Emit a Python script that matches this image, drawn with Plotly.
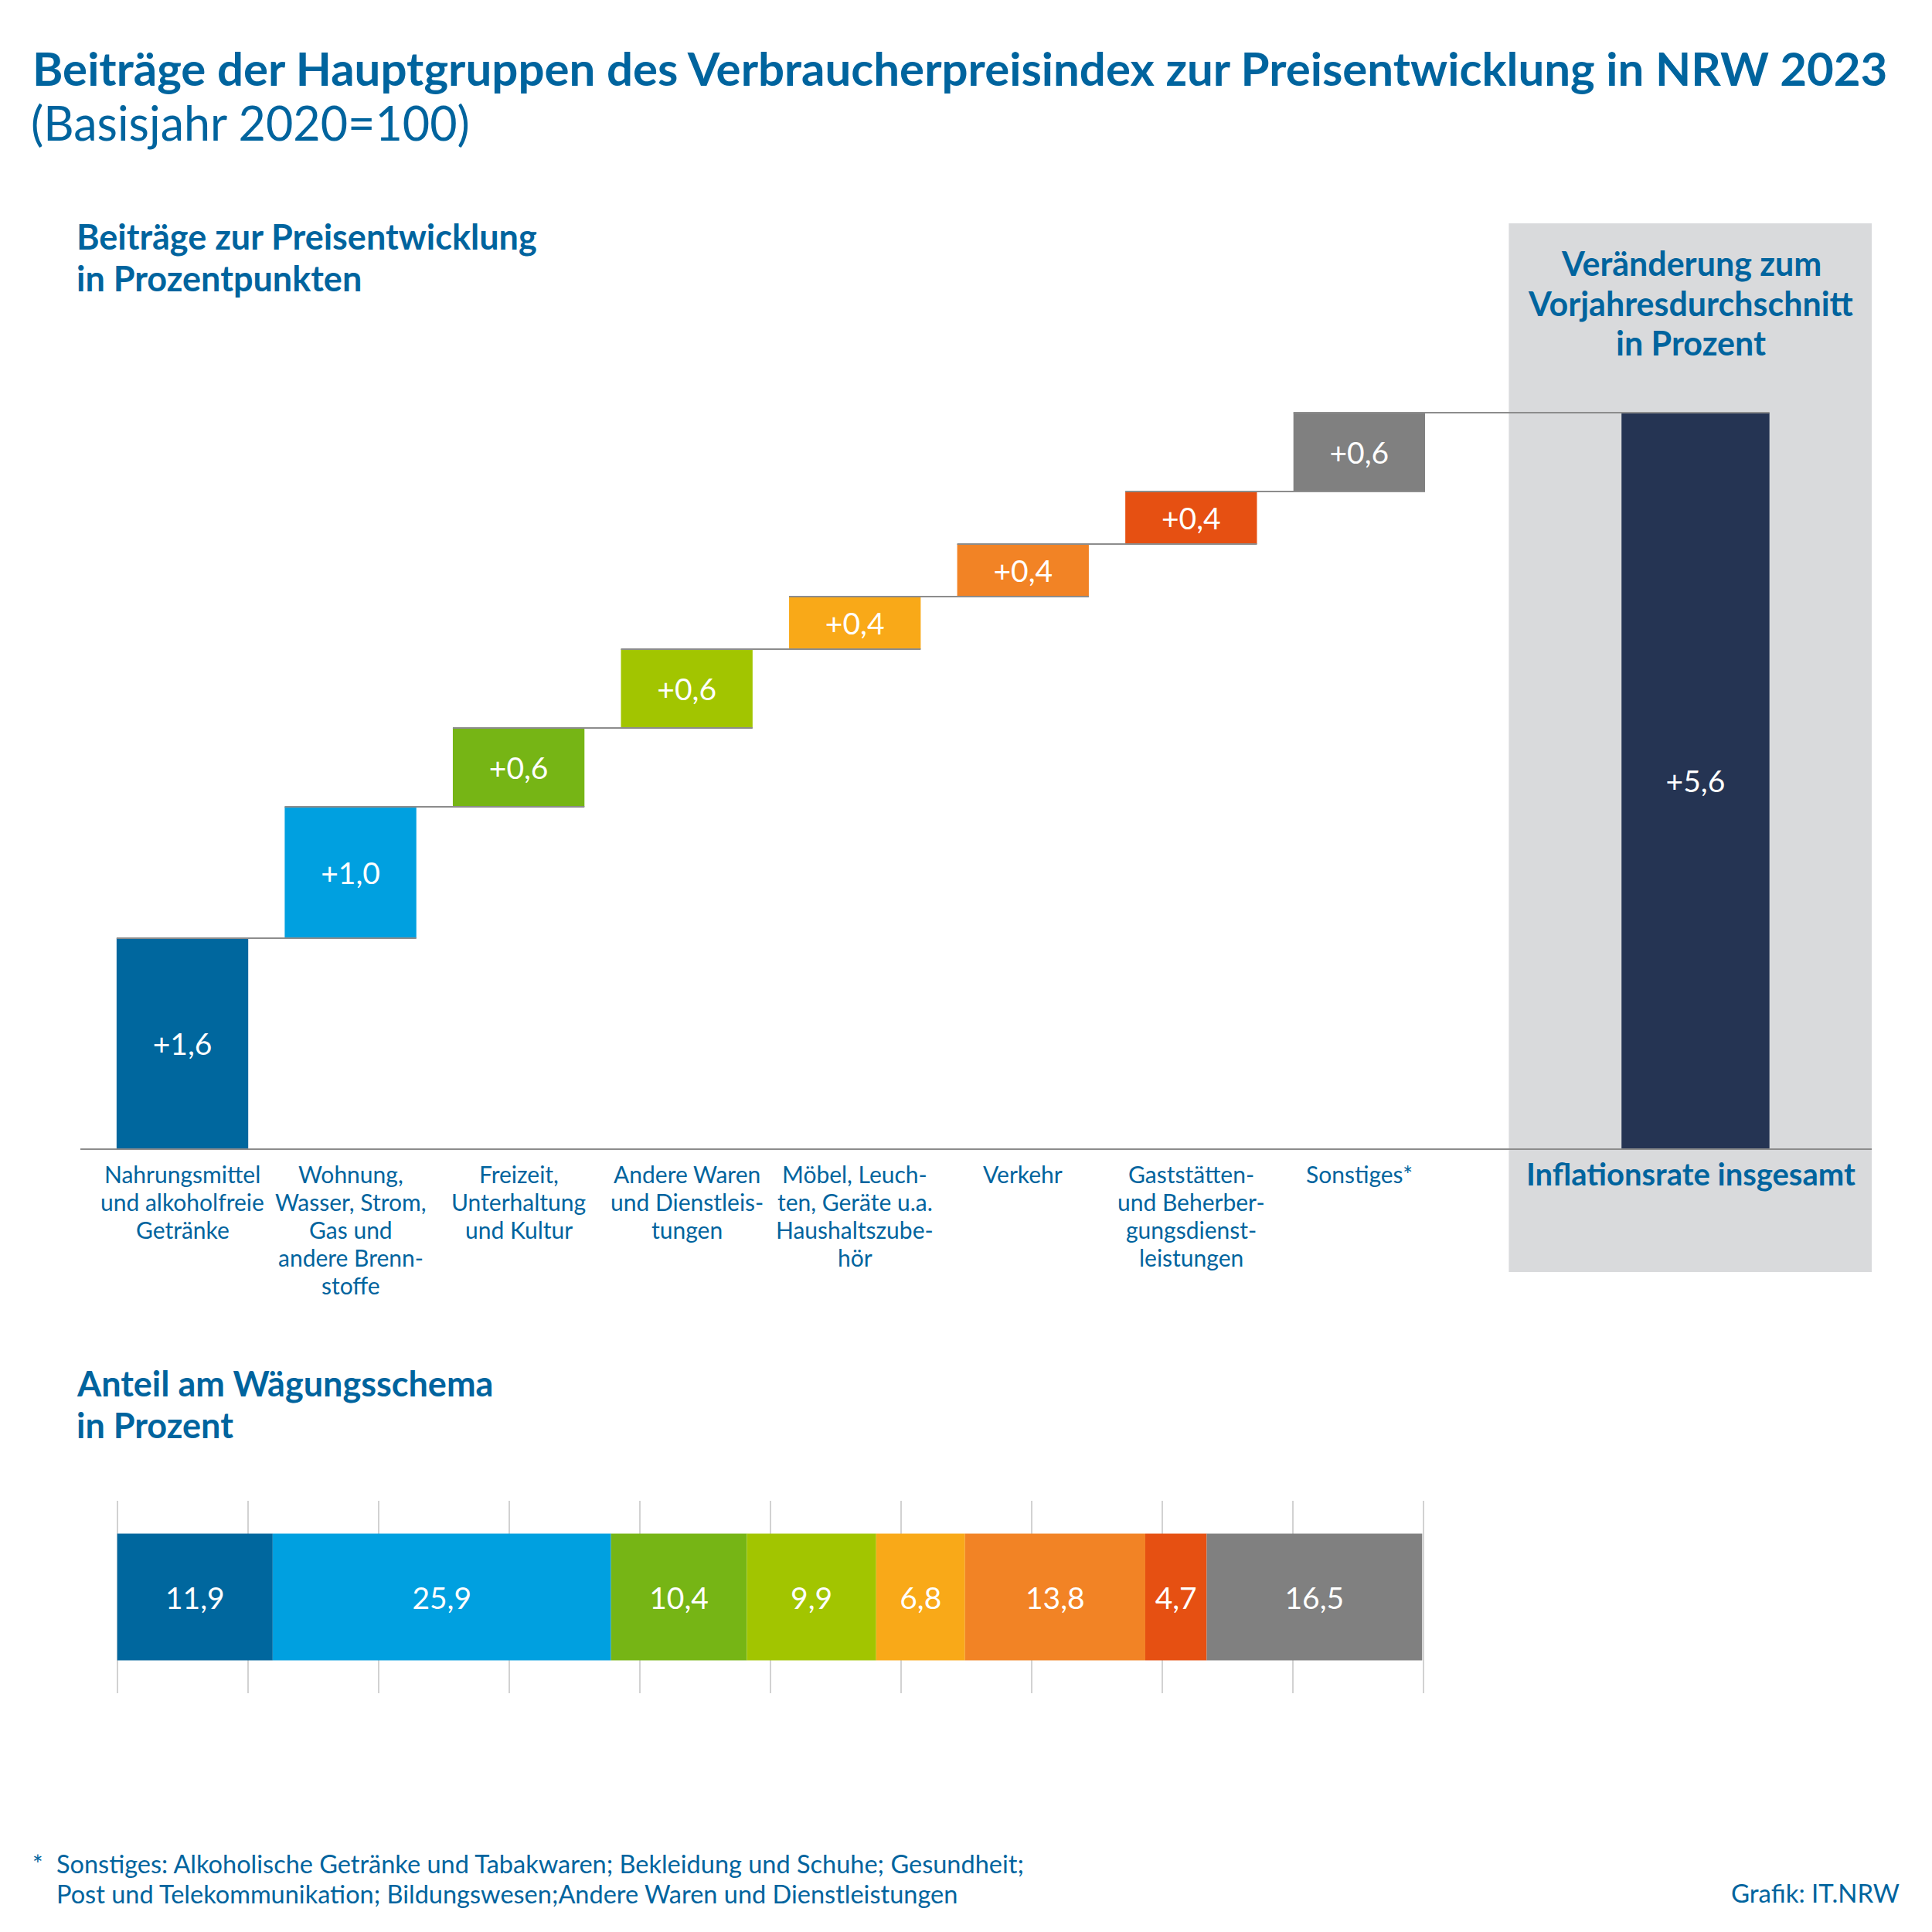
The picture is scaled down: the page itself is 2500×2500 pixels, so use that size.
import plotly.graph_objects as go

# ---------------- data ----------------
categories = [
    "Nahrungsmittel<br>und alkoholfreie<br>Getränke",
    "Wohnung,<br>Wasser, Strom,<br>Gas und<br>andere Brenn-<br>stoffe",
    "Freizeit,<br>Unterhaltung<br>und Kultur",
    "Andere Waren<br>und Dienstleis-<br>tungen",
    "Möbel, Leuch-<br>ten, Geräte u.a.<br>Haushaltszube-<br>hör",
    "Verkehr",
    "Gaststätten-<br>und Beherber-<br>gungsdienst-<br>leistungen",
    "Sonstiges*",
]
contributions = [1.6, 1.0, 0.6, 0.6, 0.4, 0.4, 0.4, 0.6]
total_label = "Inflationsrate insgesamt"
total_value = 5.6
weights = [11.9, 25.9, 10.4, 9.9, 6.8, 13.8, 4.7, 16.5]

colors = ["#00679E", "#00A0E0", "#76B515", "#A2C500",
          "#F9A918", "#F28325", "#E65012", "#808080"]
total_color = "#253453"
blue_text = "#00649E"
line_gray = "#8C8C8C"
panel_gray = "#D9DADC"
FONT = "Lato"

def de(v, plus=False):
    s = f"{v:.1f}".replace(".", ",")
    return ("+" + s) if plus else s

W, H = 2500, 2500
def py(px):
    return 1 - px / H

# ---------------- waterfall (bars with base) ----------------
n = len(contributions)
xpos = list(range(n))
total_x = n + 1
bases = []
acc = 0.0
for v in contributions:
    bases.append(acc)
    acc += v
ends = [b + v for b, v in zip(bases, contributions)]

bar_w = 0.783
tot_w = 0.88

fig = go.Figure()
fig.add_trace(go.Bar(
    x=xpos, y=contributions, base=bases, width=bar_w,
    marker=dict(color=colors, line=dict(width=0)),
    text=[de(v, True) for v in contributions],
    textposition="inside", insidetextanchor="middle", constraintext="none",
    textfont=dict(family=FONT, size=39, color="white"),
    xaxis="x", yaxis="y", showlegend=False, hoverinfo="skip",
))
fig.add_trace(go.Bar(
    x=[total_x], y=[total_value], base=[0], width=tot_w,
    marker=dict(color=total_color, line=dict(width=0)),
    text=[de(total_value, True)],
    textposition="inside", insidetextanchor="middle", constraintext="none",
    textfont=dict(family=FONT, size=39, color="white"),
    xaxis="x", yaxis="y", showlegend=False, hoverinfo="skip",
))

# connectors: from left edge of bar i to right edge of next bar, at level ends[i]
cx, cy = [], []
next_x = xpos[1:] + [total_x]
next_w = [bar_w] * (n - 1) + [tot_w]
for i in range(n):
    cx += [xpos[i] - bar_w / 2, next_x[i] + next_w[i] / 2, None]
    cy += [ends[i], ends[i], None]
fig.add_trace(go.Scatter(
    x=cx, y=cy, mode="lines", line=dict(color=line_gray, width=2),
    xaxis="x", yaxis="y", showlegend=False, hoverinfo="skip",
))

# ---------------- weight bar (stacked horizontal) ----------------
w_bases = []
acc = 0.0
for v in weights:
    w_bases.append(acc)
    acc += v
fig.add_trace(go.Bar(
    y=[0] * len(weights), x=weights, base=w_bases, orientation="h", width=0.659,
    marker=dict(color=colors, line=dict(width=0)),
    text=[de(v) for v in weights],
    textposition="inside", insidetextanchor="middle", constraintext="none",
    textfont=dict(family=FONT, size=39, color="white"),
    xaxis="x2", yaxis="y2", showlegend=False, hoverinfo="skip",
))

# ---------------- layout ----------------
px_unit = 217.5
x_left_px, x_right_px = 104, 2422
x0_data = 0 - (236 - x_left_px) / px_unit
x1_data = total_x + (x_right_px - 2194) / px_unit
base_px = 1486
y_unit = 170
y_top = 6.2

fig.update_layout(
    width=W, height=H, margin=dict(l=0, r=0, t=0, b=0),
    paper_bgcolor="white", plot_bgcolor="rgba(0,0,0,0)",
    barmode="overlay",
    font=dict(family=FONT, color=blue_text),
    xaxis=dict(
        domain=[x_left_px / W, x_right_px / W], range=[x0_data, x1_data],
        tickvals=xpos + [total_x], showticklabels=False,
        ticks="", showgrid=False, zeroline=False,
        showline=True, linecolor=line_gray, linewidth=2,
    ),
    yaxis=dict(
        domain=[py(base_px), py(base_px - y_top * y_unit)], range=[0, y_top],
        showgrid=False, zeroline=False, showticklabels=False, showline=False,
    ),
    xaxis2=dict(
        domain=[(151.7 - 0.3 * 16.9) / W, (1842 + 0.3 * 16.9) / W], range=[-0.3, 100.3],
        dtick=10, tick0=0, showgrid=True, gridcolor="#D2D2D2", gridwidth=2,
        zeroline=False, showticklabels=False, showline=False, ticks="",
        anchor="y2",
    ),
    yaxis2=dict(
        domain=[py(2191), py(1942)], range=[-0.5, 0.5],
        showgrid=False, zeroline=False, showticklabels=False, showline=False,
        anchor="x2",
    ),
)

# grey panel behind total bar
fig.add_shape(type="rect", xref="x", yref="paper",
              x0=(1952 - 236) / px_unit, x1=x1_data,
              y0=py(1646), y1=py(289),
              fillcolor=panel_gray, line=dict(width=0), layer="below")

def lines_ann(text, x, y_first, spacing, size, bold=False, xanchor="left",
              xref="paper", color=blue_text, xshift=0):
    for k, line in enumerate(text.split("<br>")):
        t = f"<b>{line}</b>" if bold else line
        fig.add_annotation(text=t, x=(x / W if xref == "paper" else x),
                           y=py(y_first + k * spacing), xref=xref, yref="paper",
                           xanchor=xanchor, yanchor="middle", showarrow=False,
                           xshift=xshift,
                           font=dict(family=FONT, size=size, color=color))

# category labels under the axis (axis positions)
for xi, lab in zip(xpos, categories):
    lines_ann(lab, xi, 1519, 36, 30, xanchor="center", xref="x")
lines_ann(total_label, total_x, 1519, 0, 40, bold=True, xanchor="center", xref="x",
          xshift=-6)

lines_ann("Beiträge der Hauptgruppen des Verbraucherpreisindex zur Preisentwicklung in NRW 2023",
          40, 88, 0, 60, bold=True)
lines_ann("(Basisjahr 2020=100)", 38, 158, 0, 61)
lines_ann("Beiträge zur Preisentwicklung<br>in Prozentpunkten", 97, 306, 54, 45, bold=True)
lines_ann("Veränderung zum<br>Vorjahresdurchschnitt<br>in Prozent", 2188, 340.5, 51.7, 43,
          bold=True, xanchor="center")
lines_ann("Anteil am Wägungsschema<br>in Prozent", 97, 1790, 54, 45, bold=True)
lines_ann("*", 40, 2411, 0, 32)
lines_ann("Sonstiges: Alkoholische Getränke und Tabakwaren; Bekleidung und Schuhe; Gesundheit;<br>"
          "Post und Telekommunikation; Bildungswesen;Andere Waren und Dienstleistungen",
          71, 2411, 39, 32.5)
lines_ann("Grafik: IT.NRW", 2460, 2449, 0, 33, xanchor="right")

fig.write_html("out.html")
